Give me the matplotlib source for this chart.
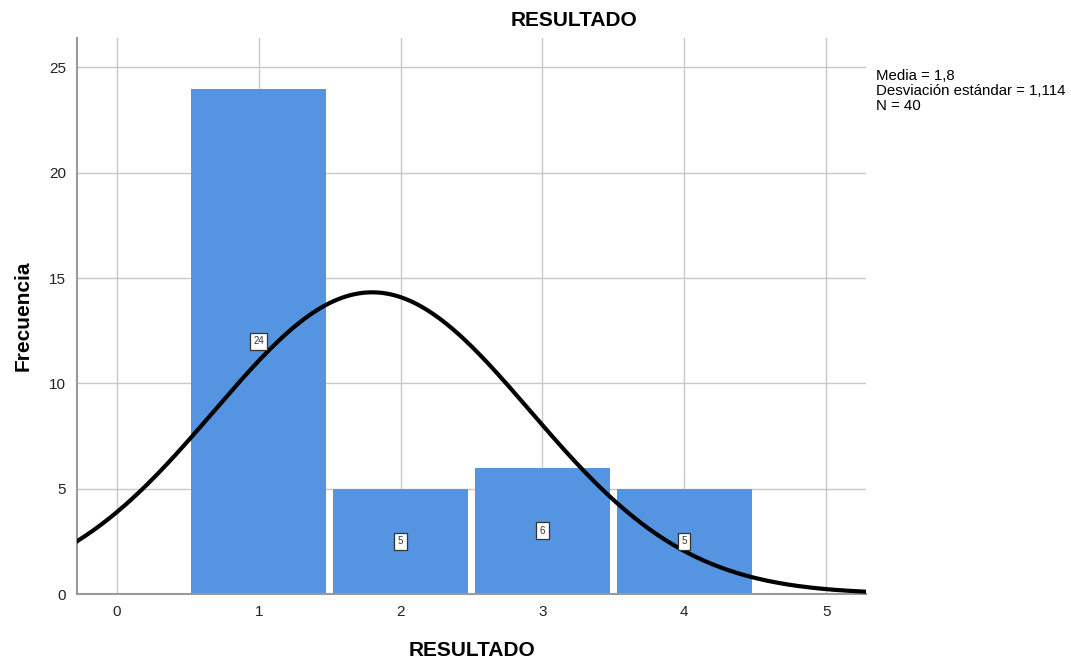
import matplotlib.pyplot as plt
import numpy as np

plt.rcParams['font.family'] = ['Liberation Sans', 'DejaVu Sans']

# frequencies per category of RESULTADO
categorias = [1, 2, 3, 4]
frecuencias = [24, 5, 6, 5]
media = 1.8
desv = 1.114
n_total = 40

xticks = [0, 1, 2, 3, 4, 5]
yticks = [0, 5, 10, 15, 20, 25]

fig = plt.figure(figsize=(10.71, 6.61), dpi=100)
ax = fig.add_axes([77 / 1071, 67 / 661, (866 - 77) / 1071, (594 - 38) / 661])

ax.bar(categorias, frecuencias, width=0.95, color='#5594e0',
       linewidth=0, zorder=2)

# bar value boxes at half height
for c, f in zip(categorias, frecuencias):
    ax.text(c, f / 2, str(f), ha='center', va='center', fontsize=7,
            color='#333333', zorder=4,
            bbox=dict(boxstyle='square,pad=0.35', fc='white', ec='#333333', lw=0.9))

# normal curve scaled to counts (bin width 1)
xs = np.linspace(-0.28, 5.28, 400)
ys = n_total / (desv * np.sqrt(2 * np.pi)) * np.exp(-0.5 * ((xs - media) / desv) ** 2)
ax.plot(xs, ys, color='black', lw=3, zorder=3)

ax.set_xlim(-0.28, 5.28)
ax.set_ylim(0, 26.4)
ax.set_xticks(xticks)
ax.set_yticks(yticks)
ax.tick_params(length=0, labelsize=11, colors='#222222', pad=8)
ax.grid(True, color='#c8c8c8', lw=1, zorder=0)
ax.set_axisbelow(True)

for s in ['top', 'right']:
    ax.spines[s].set_visible(False)
for s in ['left', 'bottom']:
    ax.spines[s].set_color('#999999')
    ax.spines[s].set_linewidth(1.5)

ax.set_xlabel('RESULTADO', fontsize=15, fontweight='bold', labelpad=16)
ax.set_ylabel('Frecuencia', fontsize=15, fontweight='bold', labelpad=12)
fig.text(574 / 1071, 1 - 21 / 661, 'RESULTADO', ha='center', va='center',
         fontsize=15, fontweight='bold')

fig.text(876 / 1071, 1 - 69 / 661,
         'Media = 1,8\nDesviación estándar = 1,114\nN = 40',
         ha='left', va='top', fontsize=10.8, linespacing=1.1)

fig.savefig('out.png', dpi=100)
